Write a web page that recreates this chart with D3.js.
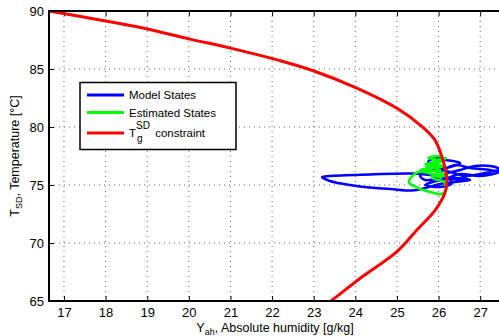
<!DOCTYPE html>
<html><head><meta charset="utf-8">
<script src="https://cdn.jsdelivr.net/npm/d3@7"></script>
<style>body{margin:0;background:#fff}svg{display:block;font-family:"Liberation Sans",Arial,sans-serif}</style>
</head><body><svg id="c" width="499" height="336"></svg>
<script>
const xTicks = [17,18,19,20,21,22,23,24,25,26,27];
const yTicks = [65,70,75,80,85,90];
const seriesNames = ["Model States","Estimated States","constraint"];
// red constraint curve
const redY = [16.60,18.0,19.0,20.0,21.0,22.19,22.99,24.01,25.0,25.56,25.90,26.08,26.18,26.2,26.14,25.92,25.48,25.0,24.15,23.39,23.2];
const redT = [90.03,89.14,88.45,87.6,86.8,85.72,84.85,83.39,81.61,80.17,78.95,77.44,76.0,75.15,74.2,72.84,71.12,69.25,67.05,64.94,64.5];
// model states (blue)
const blueY = [26.04,26.40,26.76,27.24,27.46,27.00,26.52,26.16,25.80,25.32,24.36,23.39,23.20,23.39,24.12,24.84,25.37,25.68,26.04,26.40,26.76,26.40,26.04,25.68,26.04,26.33,26.16,26.52,26.88,27.24,27.46,27.12,26.64,26.28,25.99,25.75,25.92,26.16,26.52,26.28,25.85,25.56,25.68,26.04,26.52,26.76];
const blueT = [76.12,76.72,76.47,76.29,76.12,75.78,75.95,75.60,75.86,75.99,75.91,75.78,75.69,75.34,74.87,74.66,74.53,74.74,75.09,75.26,75.43,75.60,75.43,75.00,74.83,75.17,75.86,76.29,76.64,76.64,76.38,76.03,75.78,76.12,76.47,76.98,77.33,77.16,76.90,76.55,76.29,75.78,75.43,75.60,75.52,75.95];
// estimated states (green)
const greenY = [26.04,25.75,26.09,25.94,25.68,26.16,25.80,25.56,26.04,26.16,25.85,25.51,25.29,25.51,25.80,26.06,26.18,26.13,25.85,26.04,25.70,25.99,26.18,25.92,25.75,26.09];
const greenT = [77.16,77.33,77.50,76.98,76.81,76.64,76.47,76.29,76.12,75.78,75.95,76.12,75.26,74.74,74.40,74.22,74.57,75.26,75.60,76.29,76.64,77.16,77.33,76.72,76.12,75.60];

const svg = d3.select("#c");
const L=49, R=501, T=11, B=301;
const x = d3.scaleLinear().domain([16.64,27.5]).range([L,R]);
const y = d3.scaleLinear().domain([65,90]).range([B,T]);

svg.append("defs").append("clipPath").attr("id","clip").append("rect").attr("x",L).attr("y",T).attr("width",R-L).attr("height",B-T);

// grid
const g = svg.append("g");
g.selectAll(".gx").data(xTicks).join("line").attr("x1",d=>x(d)).attr("x2",d=>x(d)).attr("y1",T).attr("y2",B)
 .attr("stroke","#666").attr("stroke-width",1).attr("stroke-dasharray","1,4");
g.selectAll(".gy").data(yTicks).join("line").attr("y1",d=>y(d)).attr("y2",d=>y(d)).attr("x1",L).attr("x2",R)
 .attr("stroke","#666").attr("stroke-width",1).attr("stroke-dasharray","1,4");

// axes
const xAxis = svg.append("g").attr("transform",`translate(0,${B})`).call(d3.axisBottom(x).tickValues(xTicks).tickSize(-5).tickPadding(7).tickFormat(d3.format("d")));
const xAxisTop = svg.append("g").attr("transform",`translate(0,${T})`).call(d3.axisTop(x).tickValues(xTicks).tickSize(-5).tickFormat(""));
const yAxis = svg.append("g").attr("transform",`translate(${L},0)`).call(d3.axisLeft(y).tickValues(yTicks).tickSize(-5).tickPadding(5).tickFormat(d3.format("d")));
[xAxis,xAxisTop,yAxis].forEach(a=>{
  a.select(".domain").remove();
  a.selectAll("line").attr("stroke","#000");
  a.selectAll("text").attr("font-size",13).attr("fill","#000").attr("font-family","Liberation Sans, Arial, sans-serif");
});

const lineGen = d3.line().x(d=>x(d[0])).y(d=>y(d[1]));
const plot = svg.append("g").attr("clip-path","url(#clip)");
plot.append("path").datum(d3.zip(blueY,blueT)).attr("d",lineGen.curve(d3.curveCatmullRom.alpha(0.5)))
  .attr("fill","none").attr("stroke","#0000ff").attr("stroke-width",2.5).attr("stroke-linejoin","round");
plot.append("path").datum(d3.zip(greenY,greenT)).attr("d",lineGen.curve(d3.curveCatmullRom.alpha(0.5)))
  .attr("fill","none").attr("stroke","#00ff00").attr("stroke-width",2.5).attr("stroke-linejoin","round");
plot.append("path").datum(d3.zip(redY,redT)).attr("d",lineGen.curve(d3.curveCatmullRom.alpha(0.5)))
  .attr("fill","none").attr("stroke","#ff0000").attr("stroke-width",3);

// frame
svg.append("rect").attr("x",L).attr("y",T).attr("width",R-L).attr("height",B-T).attr("fill","none").attr("stroke","#000").attr("stroke-width",2);

// legend
const lg = svg.append("g");
lg.append("rect").attr("x",80).attr("y",82.5).attr("width",156).attr("height",67).attr("fill","#fff").attr("stroke","#000").attr("stroke-width",1.5);
const cols=["#0000ff","#00ff00","#ff0000"], ly=[95,112.5,133];
cols.forEach((c,i)=>{
  lg.append("line").attr("x1",87).attr("x2",124).attr("y1",ly[i]).attr("y2",ly[i]).attr("stroke",c).attr("stroke-width",3);
});
lg.append("text").attr("x",129).attr("y",ly[0]+4).attr("font-size",11.5).text(seriesNames[0]);
lg.append("text").attr("x",129).attr("y",ly[1]+4).attr("font-size",11.5).text(seriesNames[1]);
const t3 = lg.append("text").attr("x",129).attr("y",ly[2]+4).attr("font-size",11.5);
t3.append("tspan").text("T");
t3.append("tspan").attr("font-size",10).attr("dy",-8).text("SD");
t3.append("tspan").attr("font-size",10).attr("x",137).attr("dy",13).text("g");
t3.append("tspan").attr("x",152).attr("dy",-5).text(" " + seriesNames[2]);

// axis labels
const xl = svg.append("text").attr("x",(L+R)/2).attr("y",332).attr("text-anchor","middle").attr("font-size",12.5);
xl.append("tspan").text("Y");
xl.append("tspan").attr("font-size",9).attr("dy",3).text("ah");
xl.append("tspan").attr("dy",-3).text(", Absolute humidity [g/kg]");

const yl = svg.append("text").attr("transform",`translate(19,${(T+B)/2}) rotate(-90)`).attr("text-anchor","middle").attr("font-size",12.5);
yl.append("tspan").text("T");
yl.append("tspan").attr("font-size",9).attr("dy",3).text("SD");
yl.append("tspan").attr("dy",-3).text(", Temperature [°C]");
</script></body></html>
